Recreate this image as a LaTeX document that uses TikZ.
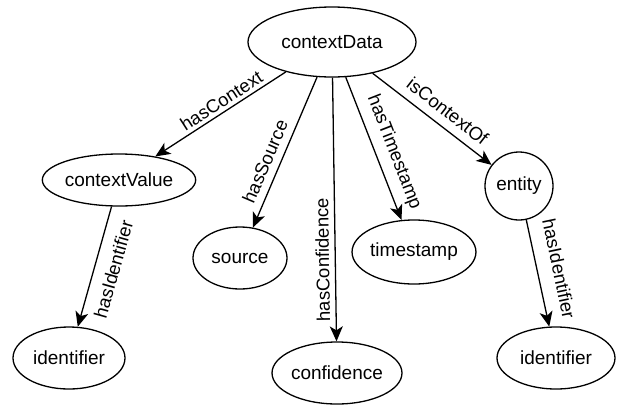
\documentclass[tikz,border=0pt]{standalone}
\usepackage{fontspec}
\setmainfont{Liberation Sans}
\usetikzlibrary{shapes.geometric,arrows.meta}
\begin{document}
\begin{tikzpicture}[x=1pt,y=-1pt,
  every node/.style={font=\fontsize{19}{22}\selectfont},
  ell/.style={draw,ellipse,line width=1.3pt,inner sep=0pt},
  rel/.style={line width=1.3pt,-{Stealth[length=15pt,width=13pt,inset=4pt]}},
  lab/.style={inner sep=0pt,font=\fontsize{18.5}{22}\selectfont}]
\useasboundingbox (0,0) rectangle (619,405);
\node[ell,minimum width=168pt,minimum height=70pt] (cd) at (332,42) {contextData};
\node[ell,minimum width=132pt,minimum height=52pt] (cv) at (119,180) {contextValue};
\node[ell,minimum width=94pt,minimum height=62pt] (src) at (240,258) {source};
\node[ell,minimum width=104pt,minimum height=64pt] (ts) at (414,252) {timestamp};
\node[ell,circle,minimum size=68pt] (ent) at (519,186) {entity};
\node[ell,minimum width=116pt,minimum height=62pt] (conf) at (337,373) {confidence};
\node[ell,minimum width=112pt,minimum height=62pt] (idl) at (69,358) {identifier};
\node[ell,minimum width=118pt,minimum height=62pt] (idr) at (556,358) {identifier};
\draw[rel] (cd) -- node[lab,pos=0.45,rotate=32.9,anchor=south,outer sep=4pt] {hasContext} (cv);
\draw[rel] (cd) -- node[lab,pos=0.6,rotate=66.9,anchor=south,outer sep=8pt] {hasSource} (src);
\draw[rel] (cd) -- node[lab,pos=0.69,rotate=90.9,anchor=south,outer sep=6pt] {hasConfidence} (conf);
\draw[rel] (cd) -- node[lab,pos=0.57,rotate=-68.7,anchor=south,outer sep=9pt] {hasTimestamp} (ts);
\draw[rel] (cd) -- node[lab,pos=0.55,rotate=-37.8,anchor=south,outer sep=9pt] {isContextOf} (ent);
\draw[rel] (cv) -- node[lab,pos=0.48,rotate=74.3,anchor=north,outer sep=12pt] {hasIdentifier} (idl);
\draw[rel] (ent) -- node[lab,pos=0.5,rotate=-78.1,anchor=south,outer sep=15pt] {hasIdentifier} (idr);
\end{tikzpicture}
\end{document}
